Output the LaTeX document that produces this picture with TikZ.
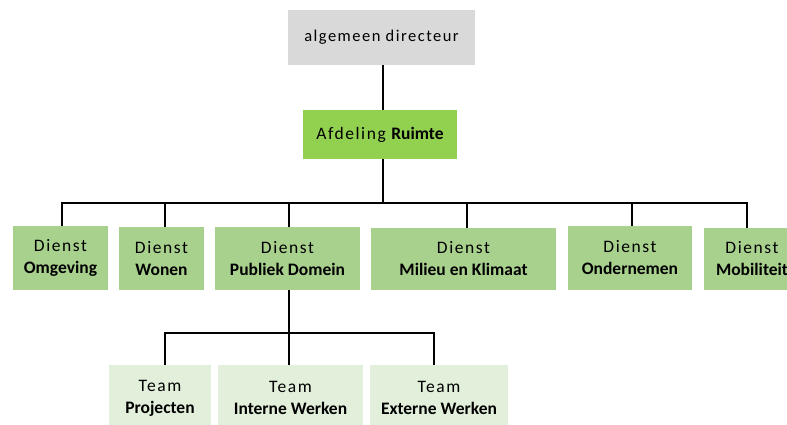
\documentclass[tikz,border=0pt]{standalone}
\usepackage{fontspec}
\setmainfont{Carlito}
\newfontfamily\spaced[LetterSpace=9]{Carlito}
\definecolor{topgray}{HTML}{D9D9D9}
\definecolor{afdgreen}{HTML}{92D050}
\definecolor{dgreen}{HTML}{A9D18E}
\definecolor{tgreen}{HTML}{E2EFDA}
\begin{document}
\begin{tikzpicture}[x=1pt,y=-1pt,
  box/.style={draw=none,inner sep=0pt,align=center,font=\fontsize{17.5}{22}\selectfont},
  line/.style={line width=1.5pt,black}]
\useasboundingbox (0,0) rectangle (787,425);
\fill[white] (0,0) rectangle (787,425);
% top
\node[box,fill=topgray,minimum width=187,minimum height=55,font=\fontsize{16.5}{18}\selectfont] (ad) at (381.5,37.5) {\spaced algemeen directeur};
\node[box,fill=afdgreen,minimum width=154,minimum height=49,font=\fontsize{17.5}{18}\selectfont] (afd) at (380,134.5) {\spaced Afdeling \normalfont\bfseries Ruimte};
% diensten
\node[box,fill=dgreen,minimum width=95,minimum height=64] (om) at (60.5,258) {{\spaced Dienst}\\\bfseries Omgeving};
\node[box,fill=dgreen,minimum width=85,minimum height=63] (wo) at (161.5,258.5) {{\spaced Dienst}\\\bfseries Wonen};
\node[box,fill=dgreen,minimum width=145,minimum height=63] (pd) at (287.5,258.5) {{\spaced Dienst}\\\bfseries Publiek Domein};
\node[box,fill=dgreen,minimum width=185,minimum height=62] (mk) at (463.5,259) {{\spaced Dienst}\\\bfseries Milieu en Klimaat};
\node[box,fill=dgreen,minimum width=124,minimum height=64] (on) at (630,258) {{\spaced Dienst}\\\bfseries Ondernemen};
\node[box,fill=dgreen,minimum width=96,minimum height=62] (mo) at (752,259) {{\spaced Dienst}\\\bfseries Mobiliteit};
% teams
\node[box,fill=tgreen,minimum width=102,minimum height=66] (pr) at (160,398) {{\spaced Team}\\\bfseries Projecten};
\node[box,fill=tgreen,minimum width=145,minimum height=66] (iw) at (290.5,398) {{\spaced Team}\\\bfseries Interne Werken};
\node[box,fill=tgreen,minimum width=138,minimum height=66] (ew) at (439,398) {{\spaced Team}\\\bfseries Externe Werken};
% connectors
\coordinate (bar) at (383,203);
\draw[line] (ad.south -| bar) -- (afd.north -| bar);
\draw[line] (afd.south -| bar) -- (bar);
\draw[line] (om.north -| 62,0) |- (bar) -| (mo.north -| 747,0);
\draw[line] (wo.north -| 165,0) -- (165,203);
\draw[line] (pd.north -| 289,0) -- (289,203);
\draw[line] (mk.north -| 467,0) -- (467,203);
\draw[line] (on.north -| 632,0) -- (632,203);
\coordinate (tbar) at (289,333);
\draw[line] (pd.south -| tbar) -- (iw.north -| tbar);
\draw[line] (pr.north -| 165,0) |- (tbar) -| (ew.north -| 434,0);
\end{tikzpicture}
\end{document}
